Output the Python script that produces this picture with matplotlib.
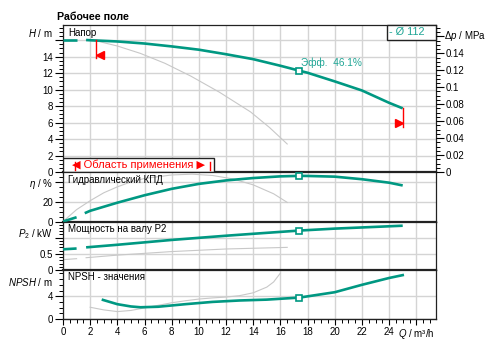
import matplotlib
matplotlib.use('Agg')
import matplotlib.pyplot as plt
from matplotlib.ticker import MultipleLocator, FixedLocator, FixedFormatter
from matplotlib.patches import Rectangle

plt.rcParams['font.family'] = ['Liberation Sans', 'DejaVu Sans']
plt.rcParams['mathtext.fontset'] = 'custom'
plt.rcParams['mathtext.it'] = 'Liberation Sans:italic'
plt.rcParams['mathtext.rm'] = 'Liberation Sans'

# ---------------- data ----------------
q_head = [0, 1.0, 1.7, 2, 4, 6, 8, 10, 12, 14, 16, 17.4, 18, 20, 22, 24, 25]
h_head = [16.05, 16.05, 16.03, 16.0, 15.85, 15.6, 15.25, 14.85, 14.3, 13.7, 12.9, 12.3, 12.05, 11.0, 9.9, 8.4, 7.73]
q_head_ref = [1.7, 2.5, 4, 5.7, 7.5, 9.4, 11.5, 13.8, 15.2, 16.5]
h_head_ref = [16.0, 15.9, 15.3, 14.4, 13.2, 11.65, 9.7, 7.3, 5.4, 3.4]

q_eff = [0, 1.0, 1.6, 2, 4, 6, 8, 10, 12, 14, 16, 17.4, 18, 20, 22, 24, 25]
eta = [0, 4.3, 8.4, 10.8, 19, 26.5, 33, 38, 41.5, 43.9, 45.6, 46.1, 46.0, 45.3, 42.7, 39.2, 36.4]
q_eff_ref = [0, 1, 2, 3, 4, 5, 6, 8, 9.5, 11, 12.5, 14, 15.5, 16.5]
eta_ref = [0, 12, 21, 29, 35, 40, 43.5, 47, 47.8, 46.5, 43, 37, 28, 19.3]

q_pow = [0, 1.0, 1.7, 4, 8, 12, 14, 17.4, 20, 25]
p2 = [0.64, 0.665, 0.70, 0.78, 0.93, 1.06, 1.12, 1.22, 1.28, 1.37]
q_pow_ref = [0, 1.0, 1.7, 4, 8, 12, 16.5]
p2_ref = [0.32, 0.35, 0.38, 0.46, 0.57, 0.65, 0.70]

q_npsh = [2.94, 4, 5, 5.7, 7, 9, 11, 13, 15, 17.4, 20, 22, 24, 25]
npsh = [3.35, 2.6, 2.2, 2.06, 2.15, 2.6, 3.0, 3.25, 3.4, 3.76, 4.7, 6.0, 7.2, 7.7]
q_npsh_ref = [2, 3, 4, 5, 6, 7, 8, 9, 10, 11, 12, 13, 14, 15, 15.5, 16]
npsh_ref = [2.06, 1.6, 1.3, 1.5, 1.95, 2.4, 2.85, 3.2, 3.5, 3.7, 3.85, 4.1, 4.6, 5.6, 6.5, 8.06]

q_duty = 17.4
eff_label = 'Эфф.  46.1%'
legend_label = '- Ø 112'
area_label = '◀ Область применения ▶'
x_ticks = [0, 2, 4, 6, 8, 10, 12, 14, 16, 18, 20, 22, 24, 26]
x_ticklabels = ['0', '2', '4', '6', '8', '10', '12', '14', '16', '18', '20', '22', '24', '$Q$ / m³/h']

TEAL = '#009882'
TEAL_TXT = '#1fa595'
GREY = '#c8c8c8'
GRID = '#d4d4d4'
FS = 7.0

W, H = 493, 360
fig = plt.figure(figsize=(4.93, 3.6), dpi=100)
L, R = 63 / W, 436 / W


def box(top, bot):
    return [L, 1 - bot / H, R - L, (bot - top) / H]


ax1 = fig.add_axes(box(25, 172))
ax2 = fig.add_axes(box(172, 221.5))
ax3 = fig.add_axes(box(221.5, 270))
ax4 = fig.add_axes(box(270, 319))
axes = [ax1, ax2, ax3, ax4]
XMAX = 27.45

for ax in axes:
    ax.set_xlim(0, XMAX)
    ax.xaxis.set_major_locator(FixedLocator(x_ticks))
    ax.xaxis.set_minor_locator(MultipleLocator(0.5))
    ax.grid(True, which='major', color=GRID, lw=1.0, zorder=0)
    ax.set_axisbelow(True)
    for s in ax.spines.values():
        s.set_color('#222222')
        s.set_linewidth(0.9)
    ax.spines['bottom'].set_linewidth(1.6)
    ax.tick_params(axis='y', which='major', direction='out', length=5.5, width=0.8,
                   labelsize=FS, pad=1.5, right=False)
    ax.tick_params(axis='y', which='minor', direction='out', length=3, width=0.7, right=False)
    if ax is not ax4:
        ax.tick_params(axis='x', which='both', bottom=False, labelbottom=False)

ax4.spines['bottom'].set_linewidth(1.0)
ax4.tick_params(axis='x', which='major', direction='out', length=4, width=0.8, labelsize=FS, pad=2)
ax4.tick_params(axis='x', which='minor', direction='out', length=3, width=0.7)
ax4.xaxis.set_major_formatter(FixedFormatter(x_ticklabels))
for lbl in ax4.get_xticklabels():
    lbl.set_fontsize(FS)


def set_y(ax, lim, majors, labels, minor):
    ax.set_ylim(0, lim)
    ax.yaxis.set_major_locator(FixedLocator(majors))
    ax.yaxis.set_major_formatter(FixedFormatter(labels))
    ax.yaxis.set_minor_locator(MultipleLocator(minor))


set_y(ax1, 17.85, [0, 2, 4, 6, 8, 10, 12, 14, 16], ['0', '2', '4', '6', '8', '10', '12', '14', ''], 0.5)
set_y(ax2, 50, [0, 20, 40], ['0', '20', ''], 5)
set_y(ax3, 1.5, [0, 0.5, 1.0], ['0', '0.5', ''], 0.1)
set_y(ax4, 8.6, [0, 4], ['0', '4'], 1)

# right pressure axis
axr = ax1.twinx()
axr.set_ylim(0, 17.85 / 102.9)
axr.yaxis.set_major_locator(FixedLocator([0, 0.02, 0.04, 0.06, 0.08, 0.10, 0.12, 0.14, 0.16]))
axr.yaxis.set_major_formatter(FixedFormatter(['0', '0.02', '0.04', '0.06', '0.08', '0.1', '0.12', '0.14', '']))
axr.yaxis.set_minor_locator(MultipleLocator(0.005))
axr.tick_params(axis='y', which='major', direction='out', length=5.5, width=0.8, labelsize=FS, pad=1.5)
axr.tick_params(axis='y', which='minor', direction='out', length=3, width=0.7)
for s in axr.spines.values():
    s.set_visible(False)


def ylab(ax, text, dy=-9):
    ax.annotate(text, xy=(0, 1), xycoords='axes fraction', xytext=(-10, dy),
                textcoords='offset pixels', ha='right', va='center', fontsize=FS)


ylab(ax1, '$H$ / m', -8)
ylab(ax2, '$\\eta$ / %', -12)
ylab(ax3, '$P_2$ / kW', -12.5)
ylab(ax4, '$NPSH$ / m', -11.5)
ax1.annotate('$\\Delta p$ / MPa', xy=(1, 1), xycoords='axes fraction', xytext=(8, -11),
             textcoords='offset pixels', ha='left', va='center', fontsize=FS)

fig.text(57 / W, 1 - 16.5 / H, 'Рабочее поле', fontsize=7.7, fontweight='bold', ha='left', va='center')

for ax, t in zip(axes, ['Напор', 'Гидравлический КПД', 'Мощность на валу P2', 'NPSH - значения']):
    ax.annotate(t, xy=(0, 1), xycoords='axes fraction', xytext=(5, -7.5),
                textcoords='offset pixels', ha='left', va='center', fontsize=FS, zorder=6)

GL = 1.9
GRL = 0.8


def split_plot(ax, q, v, gap_end, gap_start, **kw):
    a = [(x, y) for x, y in zip(q, v) if x <= gap_start]
    b = [(x, y) for x, y in zip(q, v) if x >= gap_end]
    if a:
        ax.plot([p[0] for p in a], [p[1] for p in a], **kw)
    ax.plot([p[0] for p in b], [p[1] for p in b], **kw)


# head
ax1.plot(q_head_ref, h_head_ref, color=GREY, lw=GRL, zorder=2)
split_plot(ax1, q_head, h_head, 1.7, 1.0, color=TEAL, lw=GL, solid_capstyle='butt', zorder=3)
ax1.plot([q_duty], [h_head[q_head.index(q_duty)]], marker='s', ms=4.3, mfc='white', mec=TEAL, mew=1.2, zorder=5)
ax1.text(q_duty + 0.1, 13.25, eff_label, color=TEAL_TXT, fontsize=7.3, ha='left', va='center')

# operating range markers
ax1.plot([2.43, 2.43], [16.0, 13.9], color='red', lw=1.0, zorder=4)
ax1.plot([2.75], [14.25], marker='<', color='red', ms=5.5, zorder=4)
ax1.plot([25, 25], [h_head[-1], 5.5], color='red', lw=1.0, zorder=4)
ax1.plot([24.7], [5.95], marker='>', color='red', ms=5.5, zorder=4)

# application range box
ax1.add_patch(Rectangle((0, 0), 11.1, 1.7, facecolor='white', edgecolor='#222222', lw=1.0, zorder=6))
ax1.text(5.55, 0.9, area_label, color='red', fontsize=8, ha='center', va='center', zorder=7,
         family=['Liberation Sans', 'DejaVu Sans'])
ax1.plot([0.85, 0.85], [0.22, 1.25], color='red', lw=1.0, zorder=7)
ax1.plot([10.85, 10.85], [0.22, 1.25], color='red', lw=1.0, zorder=7)

# legend box
ax1.add_patch(Rectangle((0.8686, 0.898), 0.1314, 0.102, transform=ax1.transAxes,
                        facecolor='white', edgecolor='#222222', lw=1.0, zorder=6, clip_on=False))
ax1.text(0.8686 + 0.006, 0.949, legend_label, transform=ax1.transAxes, color=TEAL_TXT,
         fontsize=7.9, ha='left', va='center', zorder=7)

# efficiency
ax2.plot(q_eff_ref, eta_ref, color=GREY, lw=GRL, zorder=2)
split_plot(ax2, q_eff, eta, 1.6, 1.0, color=TEAL, lw=GL, solid_capstyle='butt', zorder=3)
ax2.plot([q_duty], [eta[q_eff.index(q_duty)]], marker='s', ms=4.3, mfc='white', mec=TEAL, mew=1.2, zorder=5, clip_on=False)

# power
split_plot(ax3, q_pow_ref, p2_ref, 1.7, 1.0, color=GREY, lw=GRL, zorder=2)
split_plot(ax3, q_pow, p2, 1.7, 1.0, color=TEAL, lw=GL, solid_capstyle='butt', zorder=3)
ax3.plot([q_duty], [p2[q_pow.index(q_duty)]], marker='s', ms=4.3, mfc='white', mec=TEAL, mew=1.2, zorder=5)

# npsh
ax4.plot(q_npsh_ref, npsh_ref, color=GREY, lw=GRL, zorder=2)
ax4.plot(q_npsh, npsh, color=TEAL, lw=GL, zorder=3)
ax4.plot([q_duty], [npsh[q_npsh.index(q_duty)]], marker='s', ms=4.3, mfc='white', mec=TEAL, mew=1.2, zorder=5)

fig.savefig('out.png', dpi=100)
